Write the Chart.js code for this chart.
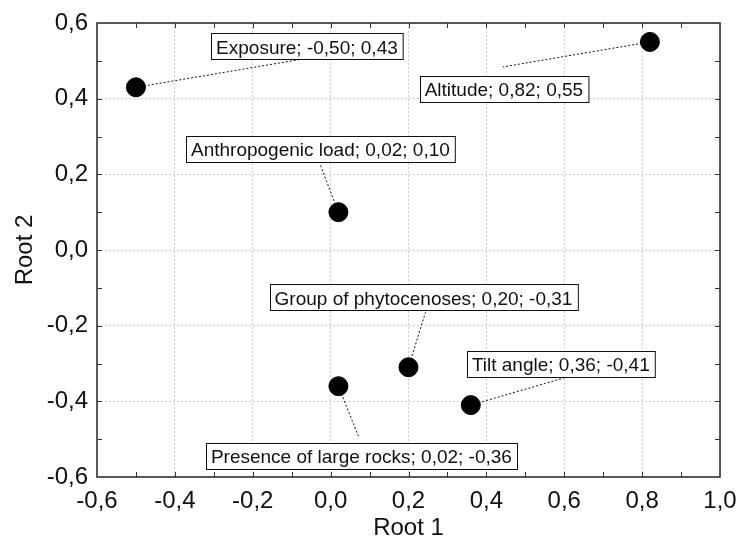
<!DOCTYPE html>
<html>
<head>
<meta charset="utf-8">
<script src="https://cdn.jsdelivr.net/npm/chart.js@4/dist/chart.umd.min.js"></script>
<style>
  html, body { margin: 0; padding: 0; background: #fff; }
  #wrap { width: 741px; height: 543px; }
</style>
</head>
<body>
<div id="wrap"><canvas id="rootChart" width="741" height="543"></canvas></div>
<script>
// Factor loadings on the two discriminant roots
const factors = ['Exposure', 'Altitude', 'Anthropogenic load', 'Group of phytocenoses', 'Tilt angle', 'Presence of large rocks'];
const root1 = [-0.50, 0.82, 0.02, 0.20, 0.36, 0.02];
const root2 = [0.43, 0.55, 0.10, -0.31, -0.41, -0.36];

// Axis ranges
const xRange = [-0.6, 1.0];
const yRange = [-0.6, 0.6];

// Label placement, pixel offsets from each point: box centre and leader end
const labelLayout = [
    { bx: 171, by: -41, lx: 171, ly: -29 },
    { bx: -146, by: 47, lx: -147, ly: 25 },
    { bx: -18, by: -63, lx: -18, ly: -47 },
    { bx: 15, by: -70, lx: 17, ly: -55 },
    { bx: 90, by: -41, lx: 96, ly: -28 },
    { bx: 23, by: 70, lx: 20, ly: 50 }
];

const FONT = '"Liberation Sans", Arial, sans-serif';
const comma = (v, d) => {
    let s = (Math.round(v * Math.pow(10, d)) / Math.pow(10, d)).toFixed(d);
    if (/^-0[.,]0+$/.test(s)) s = s.slice(1);
    return s.replace('.', ',');
};

const points = root1.map((x, i) => ({ x: x, y: root2[i] }));

// Frame with inward minor ticks, leaders and label boxes
const framePlugin = {
    id: 'frame',
    beforeDatasetsDraw(chart) {
        const ctx = chart.ctx;
        const xs = chart.scales.x, ys = chart.scales.y;
        ctx.save();
        ctx.strokeStyle = '#111';
        ctx.lineWidth = 1;
        ctx.setLineDash([2, 2]);
        points.forEach((p, i) => {
            const px = xs.getPixelForValue(p.x), py = ys.getPixelForValue(p.y);
            const l = labelLayout[i];
            ctx.beginPath();
            ctx.moveTo(px, py);
            ctx.lineTo(px + l.lx, py + l.ly);
            ctx.stroke();
        });
        ctx.restore();
    },
    afterDatasetsDraw(chart) {
        const ctx = chart.ctx;
        const xs = chart.scales.x, ys = chart.scales.y;
        const a = chart.chartArea;
        ctx.save();
        // tick marks every 0.1 pointing inward
        ctx.strokeStyle = '#333';
        ctx.lineWidth = 1;
        const t = 5;
        for (let k = Math.round(xRange[0] * 10) + 1; k < Math.round(xRange[1] * 10); k++) {
            const px = Math.round(xs.getPixelForValue(k / 10)) + 0.5;
            ctx.beginPath();
            ctx.moveTo(px, a.bottom); ctx.lineTo(px, a.bottom - t);
            ctx.moveTo(px, a.top); ctx.lineTo(px, a.top + t);
            ctx.stroke();
        }
        for (let k = Math.round(yRange[0] * 10) + 1; k < Math.round(yRange[1] * 10); k++) {
            const py = Math.round(ys.getPixelForValue(k / 10)) + 0.5;
            ctx.beginPath();
            ctx.moveTo(a.left, py); ctx.lineTo(a.left + t, py);
            ctx.moveTo(a.right, py); ctx.lineTo(a.right - t, py);
            ctx.stroke();
        }
        ctx.lineWidth = 1.6;
        ctx.strokeRect(a.left, a.top, a.right - a.left, a.bottom - a.top);

        // label boxes
        ctx.font = '19px ' + FONT;
        ctx.textAlign = 'center';
        ctx.textBaseline = 'middle';
        points.forEach((p, i) => {
            const px = xs.getPixelForValue(p.x), py = ys.getPixelForValue(p.y);
            const l = labelLayout[i];
            const text = factors[i] + '; ' + comma(p.x, 2) + '; ' + comma(p.y, 2);
            const w = ctx.measureText(text).width + 10;
            const h = 26;
            const cx = px + l.bx, cy = py + l.by;
            const x0 = Math.round(cx - w / 2) + 0.5, y0 = Math.round(cy - h / 2) + 0.5;
            ctx.fillStyle = '#fff';
            ctx.fillRect(x0, y0, w, h);
            ctx.strokeStyle = '#111';
            ctx.lineWidth = 1;
            ctx.strokeRect(x0, y0, w, h);
            ctx.fillStyle = '#111';
            ctx.fillText(text, cx, cy + 2);
        });
        ctx.restore();
    }
};

const gridStyle = {
    color: '#cfcfcf',
    lineWidth: 1,
    drawTicks: false
};

const chart = new Chart(document.getElementById('rootChart').getContext('2d'), {
    type: 'scatter',
    data: {
        datasets: [{
            data: points,
            backgroundColor: '#000',
            borderColor: '#000',
            pointRadius: 9.5,
            pointHoverRadius: 9.5
        }]
    },
    options: {
        responsive: false,
        animation: false,
        layout: { padding: { top: 23, right: 21, left: 0, bottom: 0 } },
        plugins: {
            legend: { display: false },
            tooltip: { enabled: false }
        },
        scales: {
            x: {
                type: 'linear',
                min: xRange[0],
                max: xRange[1],
                afterFit: s => { s.height = 66; s.paddingLeft = 0; s.paddingRight = 0; },
                grid: gridStyle,
                border: { display: false, dash: [2, 2] },
                ticks: {
                    stepSize: 0.2,
                    padding: 10,
                    color: '#111',
                    font: { family: FONT, size: 24 },
                    maxRotation: 0,
                    callback: v => comma(v, 1)
                },
                title: {
                    display: true,
                    text: 'Root 1',
                    color: '#111',
                    font: { family: FONT, size: 24 },
                    padding: { top: 0, bottom: 0 }
                }
            },
            y: {
                type: 'linear',
                min: yRange[0],
                max: yRange[1],
                afterFit: s => { s.width = 97; s.paddingTop = 0; s.paddingBottom = 0; },
                grid: gridStyle,
                border: { display: false, dash: [2, 2] },
                ticks: {
                    stepSize: 0.2,
                    padding: 9,
                    color: '#111',
                    font: { family: FONT, size: 24 },
                    callback: v => comma(v, 1)
                },
                title: {
                    display: true,
                    text: 'Root 2',
                    color: '#111',
                    font: { family: FONT, size: 24 },
                    padding: { top: 11, bottom: 0 }
                }
            }
        }
    },
    plugins: [framePlugin]
});
</script>
</body>
</html>
